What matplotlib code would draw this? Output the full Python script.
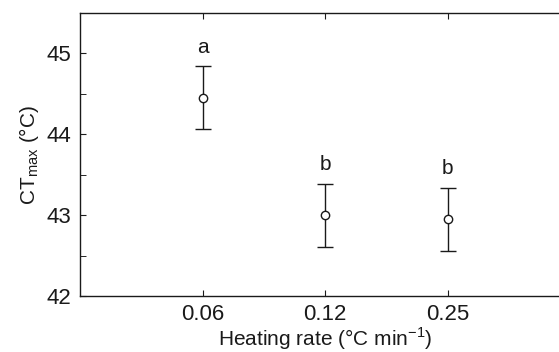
import matplotlib
matplotlib.use("Agg")
import matplotlib.pyplot as plt
from matplotlib.ticker import MultipleLocator

plt.rcParams['font.family'] = ['Liberation Sans', 'DejaVu Sans']
plt.rcParams['mathtext.fontset'] = 'custom'
plt.rcParams['mathtext.rm'] = 'Liberation Sans'

# dati
rates = ['0.06', '0.12', '0.25']
ct_mean = [44.45, 43.0, 42.95]
ct_err = [0.39, 0.39, 0.39]
letters = ['a', 'b', 'b']

fig = plt.figure(figsize=(5.59, 3.52), dpi=100)
ax = fig.add_axes([80 / 559, 1 - 296 / 352, 490 / 559, 283 / 352])

x = [1, 2, 3]
ax.errorbar(x, ct_mean, yerr=ct_err, fmt='o', color='#1a1a1a', mfc='white',
            mec='#1a1a1a', ms=6, mew=1, elinewidth=1, capsize=6, capthick=1)

# lettere sopra le barre
for xi, m, e, l in zip(x, ct_mean, ct_err, letters):
    ax.text(xi, m + e + 0.12, l, ha='center', va='bottom', fontsize=15, color='#1a1a1a')

ax.set_xlim(0, 4)
ax.set_ylim(42, 45.5)
ax.set_xticks(x)
ax.set_xticklabels(rates)
ax.yaxis.set_major_locator(MultipleLocator(1))
ax.yaxis.set_minor_locator(MultipleLocator(0.5))
ax.tick_params(direction='in', top=True, right=True, labelsize=16, colors='#1a1a1a', length=4, pad=6)
ax.tick_params(which='minor', direction='in', right=True, length=4)
for s in ax.spines.values():
    s.set_color('#1a1a1a')
    s.set_linewidth(1)

ax.set_xlabel(r'Heating rate (°C min$^{-1}$)', fontsize=15, color='#1a1a1a', labelpad=0)
ax.set_ylabel(r'CT$_{\mathrm{max}}$ (°C)', fontsize=15, color='#1a1a1a', labelpad=4)

fig.savefig('out.png', dpi=100)
